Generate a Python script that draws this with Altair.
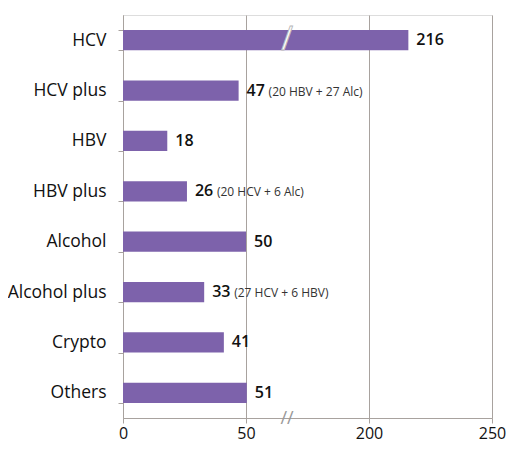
import altair as alt
import pandas as pd

categories = ["HCV", "HCV plus", "HBV", "HBV plus", "Alcohol", "Alcohol plus", "Crypto", "Others"]
values = [216, 47, 18, 26, 50, 33, 41, 51]
notes = ["", "(20 HBV + 27 Alc)", "", "(20 HCV + 6 Alc)", "", "(27 HCV + 6 HBV)", "", ""]
tick_values = [0, 50, 200, 250]
break_at = [100]

W, H = 369, 403
df = pd.DataFrame({"cat": categories, "val": values, "note": notes})
brk = pd.DataFrame({"x": break_at, "cat": ["HCV"]})

FONT = "Open Sans"
xscale = alt.Scale(domain=tick_values, range=[0, W / 3, 2 * W / 3, W], nice=False, zero=False)
yscale = alt.Scale(domain=categories, paddingInner=0.6, paddingOuter=0.3)

x = alt.X("val:Q", scale=xscale, title=None,
          axis=alt.Axis(values=tick_values, grid=True, gridColor="#a8a29e", gridWidth=1,
                        domainColor="#a8a29e", tickColor="#a8a29e", tickSize=5,
                        labelFont=FONT, labelFontSize=16, labelColor="#111", labelPadding=2,
                        labelFlush=False, labelOverlap=False, format="d"))
y = alt.Y("cat:N", scale=yscale, sort=categories, title=None,
          axis=alt.Axis(tickBand="extent", domainColor="#a8a29e", tickColor="#a8a29e", tickSize=5,
                        labelFont=FONT, labelFontSize=17.5, labelColor="#111", labelPadding=12,
                        grid=False))

base = alt.Chart(df)
bars = base.mark_bar(color="#7d62ab").encode(x=x, y=y)
vals = base.mark_text(align="left", baseline="middle", dx=8, font=FONT, fontSize=16,
                      fontWeight=600, color="#111").encode(
    x=alt.X("val:Q", scale=xscale), y=alt.Y("cat:N", scale=yscale, sort=categories),
    text="val:Q")
nts = base.mark_text(align="left", baseline="middle", dx=30, dy=1, font=FONT, fontSize=12,
                     color="#333").encode(
    x=alt.X("val:Q", scale=xscale), y=alt.Y("cat:N", scale=yscale, sort=categories),
    text="note:N")

bar_break = alt.Chart(brk).mark_text(text="/", font=FONT, fontSize=32, color="white",
                                     stroke="#b8b8b8", strokeWidth=0.8, baseline="middle").encode(
    x=alt.X("x:Q", scale=xscale), y=alt.Y("cat:N", scale=yscale, sort=categories))
axis_break = alt.Chart(brk).mark_text(text="//", font=FONT, fontSize=18, color="#999",
                                      baseline="middle", dy=1).encode(
    x=alt.X("x:Q", scale=xscale), y=alt.value(H))

chart = alt.layer(bars, vals, nts, bar_break, axis_break).properties(
    width=W, height=H,
    autosize=alt.AutoSizeParams(type="none"),
    padding={"left": 115, "top": 7, "right": 14, "bottom": 25},
).configure_view(stroke=None).configure(background="white")

chart.save("out.html", embed_options={"renderer": "svg", "actions": False})
